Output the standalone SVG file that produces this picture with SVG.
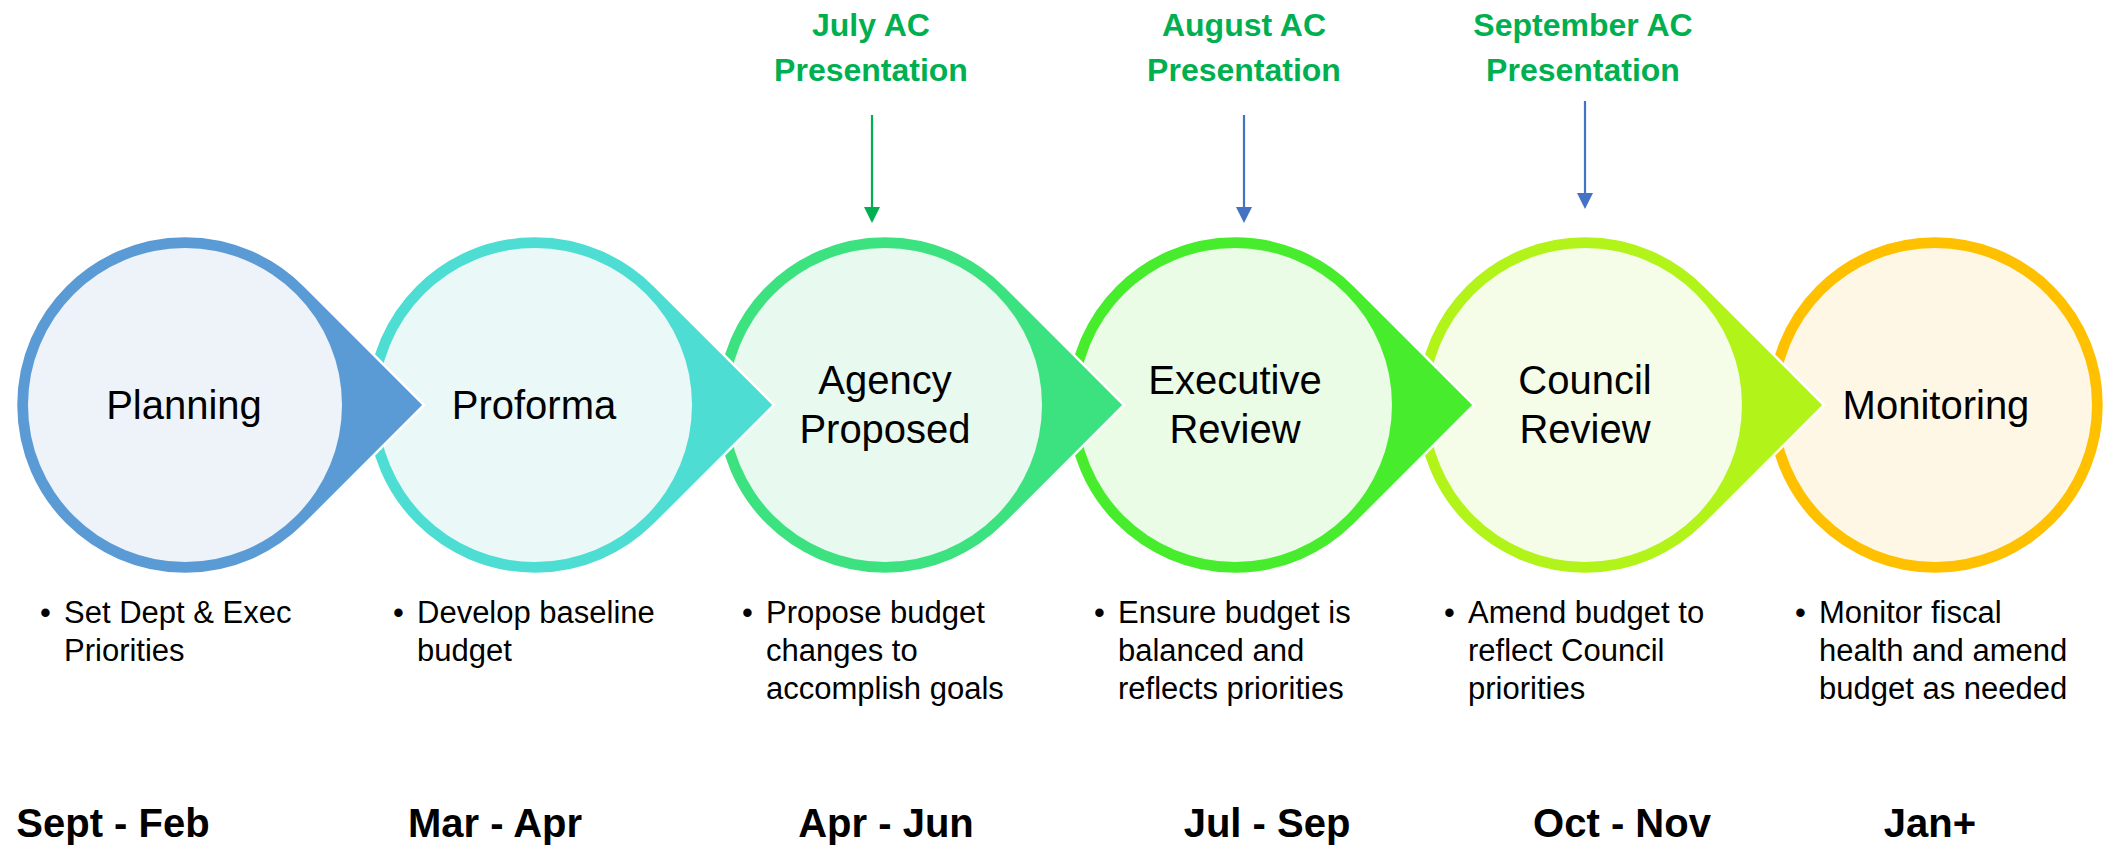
<svg xmlns="http://www.w3.org/2000/svg" xmlns:xlink="http://www.w3.org/1999/xlink" width="2111" height="846" viewBox="0 0 2111 846">
<style>
  text { font-family: "Liberation Sans", Arial, sans-serif; }
  .lbl { font-size: 40px; fill: #000; text-anchor: middle; }
  .top { font-size: 32px; font-weight: bold; fill: #00B050; text-anchor: middle; }
  .bul { font-size: 31px; fill: #000; }
  .date { font-size: 40px; font-weight: bold; fill: #000; text-anchor: middle; }
  .tear { stroke: #FFFFFF; stroke-width: 2.5; }
  .arrG { stroke: #00B050; stroke-width: 2.2; fill: none; }
  .arrB { stroke: #4472C4; stroke-width: 2.2; fill: none; }
</style>
<defs>
  <path id="tear" d="M119.5,-119.5 L239,0 L119.5,119.5 A169,169 0 1 1 119.5,-119.5 Z"/>
  <marker id="mG" viewBox="0 0 16 16" refX="0" refY="8" markerWidth="16" markerHeight="16" markerUnits="userSpaceOnUse" orient="auto">
    <path d="M0,0 L16,8 L0,16 Z" fill="#00B050"/>
  </marker>
  <marker id="mB" viewBox="0 0 16 16" refX="0" refY="8" markerWidth="16" markerHeight="16" markerUnits="userSpaceOnUse" orient="auto">
    <path d="M0,0 L16,8 L0,16 Z" fill="#4472C4"/>
  </marker>
</defs>
<rect width="2111" height="846" fill="#FFFFFF"/>

<!-- drawn right to left so each pointer overlaps the next circle -->
<g id="node-monitoring">
  <circle cx="1935" cy="405" r="169" fill="#FFC000" class="tear"/>
  <circle cx="1935" cy="405" r="157" fill="#FFF7E5"/>
  <text class="lbl" x="1936" y="419">Monitoring</text>
</g>
<g id="node-council">
  <use xlink:href="#tear" href="#tear" x="1585" y="405" fill="#B2F31A" class="tear"/>
  <circle cx="1585" cy="405" r="157" fill="#F5FCE8"/>
  <text class="lbl" x="1585" y="394">Council</text>
  <text class="lbl" x="1585" y="443">Review</text>
</g>
<g id="node-executive">
  <use xlink:href="#tear" href="#tear" x="1235" y="405" fill="#47EC2D" class="tear"/>
  <circle cx="1235" cy="405" r="157" fill="#EAFBE6"/>
  <text class="lbl" x="1235" y="394">Executive</text>
  <text class="lbl" x="1235" y="443">Review</text>
</g>
<g id="node-agency">
  <use xlink:href="#tear" href="#tear" x="885" y="405" fill="#3CE27F" class="tear"/>
  <circle cx="885" cy="405" r="157" fill="#E8F9EF"/>
  <text class="lbl" x="885" y="394">Agency</text>
  <text class="lbl" x="885" y="443">Proposed</text>
</g>
<g id="node-proforma">
  <use xlink:href="#tear" href="#tear" x="535" y="405" fill="#4DDDD3" class="tear"/>
  <circle cx="535" cy="405" r="157" fill="#EAF9F8"/>
  <text class="lbl" x="534" y="419">Proforma</text>
</g>
<g id="node-planning">
  <use xlink:href="#tear" href="#tear" x="185" y="405" fill="#5B9BD5" class="tear"/>
  <circle cx="185" cy="405" r="157" fill="#EEF3FA"/>
  <text class="lbl" x="184" y="419">Planning</text>
</g>

<g id="presentations">
  <text class="top" x="871" y="36">July AC</text>
  <text class="top" x="871" y="81">Presentation</text>
  <text class="top" x="1244" y="36">August AC</text>
  <text class="top" x="1244" y="81">Presentation</text>
  <text class="top" x="1583" y="36">September AC</text>
  <text class="top" x="1583" y="81">Presentation</text>
</g>

<g id="connectors">
  <line class="arrG" x1="872" y1="115" x2="872" y2="207" marker-end="url(#mG)"/>
  <line class="arrB" x1="1244" y1="115" x2="1244" y2="207" marker-end="url(#mB)"/>
  <line class="arrB" x1="1585" y1="101" x2="1585" y2="193" marker-end="url(#mB)"/>
</g>

<g id="bullets">
  <text class="bul" x="40" y="623">•</text>
  <text class="bul" x="64" y="623">Set Dept &amp; Exec</text>
  <text class="bul" x="64" y="661">Priorities</text>

  <text class="bul" x="393" y="623">•</text>
  <text class="bul" x="417" y="623">Develop baseline</text>
  <text class="bul" x="417" y="661">budget</text>

  <text class="bul" x="742" y="623">•</text>
  <text class="bul" x="766" y="623">Propose budget</text>
  <text class="bul" x="766" y="661">changes to</text>
  <text class="bul" x="766" y="699">accomplish goals</text>

  <text class="bul" x="1094" y="623">•</text>
  <text class="bul" x="1118" y="623">Ensure budget is</text>
  <text class="bul" x="1118" y="661">balanced and</text>
  <text class="bul" x="1118" y="699">reflects priorities</text>

  <text class="bul" x="1444" y="623">•</text>
  <text class="bul" x="1468" y="623">Amend budget to</text>
  <text class="bul" x="1468" y="661">reflect Council</text>
  <text class="bul" x="1468" y="699">priorities</text>

  <text class="bul" x="1795" y="623">•</text>
  <text class="bul" x="1819" y="623">Monitor fiscal</text>
  <text class="bul" x="1819" y="661">health and amend</text>
  <text class="bul" x="1819" y="699">budget as needed</text>
</g>

<g id="dates">
  <text class="date" x="113" y="837">Sept - Feb</text>
  <text class="date" x="495" y="837">Mar - Apr</text>
  <text class="date" x="886" y="837">Apr - Jun</text>
  <text class="date" x="1267" y="837">Jul - Sep</text>
  <text class="date" x="1622" y="837">Oct - Nov</text>
  <text class="date" x="1930" y="837">Jan+</text>
</g>
</svg>
